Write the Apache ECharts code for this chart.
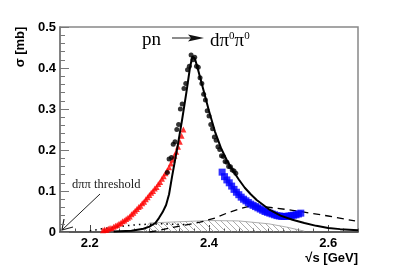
<!DOCTYPE html>
<html>
<head>
<meta charset="utf-8">
<script src="https://cdn.jsdelivr.net/npm/echarts@6/dist/echarts.min.js"></script>
<style>
  html, body { margin: 0; padding: 0; background: #fff; }
  #main { width: 399px; height: 273px; }
</style>
</head>
<body>
<div id="main"></div>
<script>
// WASA pn -> d pi0 pi0 (black dots)
var wasaX = [2.330, 2.333, 2.337, 2.340, 2.343, 2.346, 2.349, 2.352, 2.355, 2.358, 2.361, 2.364, 2.367, 2.370,
  2.373, 2.376, 2.379, 2.382, 2.385, 2.388, 2.391, 2.394, 2.397, 2.400, 2.403, 2.406, 2.409, 2.412, 2.415,
  2.418, 2.421, 2.424, 2.427, 2.430, 2.433, 2.436, 2.439, 2.442, 2.445];
var wasaY = [0.145, 0.178, 0.182, 0.214, 0.220, 0.250, 0.262, 0.300, 0.312, 0.350, 0.362, 0.396, 0.404, 0.432,
  0.420, 0.426, 0.404, 0.402, 0.376, 0.362, 0.336, 0.322, 0.296, 0.283, 0.262, 0.252, 0.232, 0.224, 0.208,
  0.201, 0.186, 0.184, 0.172, 0.170, 0.160, 0.159, 0.151, 0.149, 0.143];
// red triangles
var redX = [2.222, 2.225, 2.228, 2.231, 2.234, 2.237, 2.240, 2.243, 2.246, 2.249, 2.252, 2.255, 2.258, 2.261,
  2.264, 2.267, 2.270, 2.273, 2.276, 2.279, 2.282, 2.285, 2.288, 2.291, 2.294, 2.297, 2.300, 2.303, 2.306,
  2.309, 2.312, 2.315, 2.318, 2.321, 2.324, 2.327, 2.330, 2.333, 2.336, 2.339, 2.342, 2.345, 2.348, 2.351,
  2.354, 2.357];
var redY = [0.004, 0.006, 0.005, 0.008, 0.010, 0.009, 0.013, 0.015, 0.017, 0.020, 0.022, 0.026, 0.028, 0.032,
  0.035, 0.038, 0.043, 0.047, 0.052, 0.056, 0.061, 0.064, 0.070, 0.074, 0.080, 0.085, 0.090, 0.096, 0.100,
  0.106, 0.110, 0.117, 0.122, 0.130, 0.136, 0.143, 0.150, 0.158, 0.167, 0.176, 0.186, 0.196, 0.208, 0.220,
  0.235, 0.250];
// blue squares
var blueX = [2.422, 2.426, 2.430, 2.434, 2.438, 2.442, 2.446, 2.450, 2.454, 2.458, 2.462, 2.466, 2.470, 2.474,
  2.478, 2.482, 2.486, 2.490, 2.494, 2.498, 2.502, 2.506, 2.510, 2.514, 2.518, 2.522, 2.526, 2.530, 2.534,
  2.538, 2.542, 2.546, 2.550, 2.554];
var blueY = [0.146, 0.135, 0.127, 0.120, 0.112, 0.104, 0.097, 0.091, 0.085, 0.080, 0.076, 0.072, 0.068, 0.065,
  0.062, 0.059, 0.056, 0.053, 0.050, 0.048, 0.046, 0.044, 0.042, 0.040, 0.039, 0.038, 0.038, 0.038, 0.039,
  0.040, 0.041, 0.042, 0.044, 0.046];
// solid fit curve
var fitX = [2.24, 2.27, 2.29, 2.30, 2.31, 2.316, 2.322, 2.328, 2.333, 2.338, 2.343, 2.348, 2.355, 2.362, 2.368,
  2.372, 2.376, 2.38, 2.39, 2.40, 2.41, 2.42, 2.43, 2.44, 2.45, 2.46, 2.47, 2.48, 2.50, 2.52, 2.54, 2.56,
  2.58, 2.60, 2.62, 2.65];
var fitY = [0.001, 0.003, 0.008, 0.013, 0.022, 0.034, 0.048, 0.066, 0.092, 0.135, 0.175, 0.215, 0.275, 0.340,
  0.400, 0.428, 0.424, 0.405, 0.350, 0.295, 0.245, 0.205, 0.175, 0.150, 0.128, 0.108, 0.092, 0.078, 0.056,
  0.040, 0.030, 0.022, 0.015, 0.010, 0.007, 0.004];
// dashed curve
var dashX = [2.30, 2.32, 2.335, 2.36, 2.385, 2.41, 2.43, 2.45, 2.47, 2.49, 2.514, 2.54, 2.57, 2.60, 2.645];
var dashY = [0.0, 0.005, 0.010, 0.017, 0.024, 0.034, 0.046, 0.056, 0.064, 0.062, 0.058, 0.053, 0.046, 0.039, 0.027];
// dotted curve
var dotX = [2.20, 2.24, 2.28, 2.32, 2.36];
var dotY = [0.003, 0.012, 0.018, 0.020, 0.018];
// hatched band
var hatchX = [2.29, 2.30, 2.35, 2.40, 2.45, 2.50, 2.53, 2.56];
var hatchY = [0.0, 0.022, 0.025, 0.028, 0.027, 0.020, 0.012, 0.002];

var xLabels = [2.2, 2.4, 2.6];

function pairs(xs, ys) {
  return xs.map(function (x, i) { return [x, ys[i]]; });
}

function hatchPattern() {
  var c = document.createElement('canvas');
  c.width = 6;
  c.height = 6;
  var ctx = c.getContext('2d');
  ctx.strokeStyle = '#888';
  ctx.lineWidth = 0.7;
  ctx.beginPath();
  ctx.moveTo(-1, -1);
  ctx.lineTo(7, 7);
  ctx.moveTo(-1, 5);
  ctx.lineTo(1, 7);
  ctx.moveTo(5, -1);
  ctx.lineTo(7, 1);
  ctx.stroke();
  return c;
}

var sans = 'Liberation Sans';
var serif = 'Liberation Serif';

var myChart = echarts.init(document.getElementById('main'));
var option = {
  animation: false,
  grid: {
    show: true,
    left: 60, right: 41, top: 27, bottom: 41,
    borderColor: '#888',
    borderWidth: 1.5,
  },
  xAxis: [{
    type: 'value',
    min: 2.15,
    max: 2.65,
    axisLine: { lineStyle: { color: '#444', width: 1.5 } },
    axisTick: { inside: true, length: 7, customValues: xLabels, lineStyle: { color: '#444' } },
    axisLabel: {
      customValues: xLabels,
      margin: 5,
      color: '#000',
      fontFamily: sans,
      fontWeight: 'bold',
      fontSize: 13,
      formatter: function (v) { return v.toFixed(1); }
    },
    splitLine: { show: false },
  }, {
    type: 'value',
    min: 2.15,
    max: 2.65,
    interval: 0.025,
    position: 'bottom',
    axisLine: { show: false },
    axisTick: { inside: true, length: 3.5, lineStyle: { color: '#555' } },
    axisLabel: { show: false },
    splitLine: { show: false },
  }],
  yAxis: {
    type: 'value',
    min: 0,
    max: 0.5,
    interval: 0.1,
    axisLine: { show: true, lineStyle: { color: '#777', width: 1.5 } },
    axisTick: { inside: true, length: 9, lineStyle: { color: '#777' } },
    minorTick: { show: true, splitNumber: 5, length: 5, lineStyle: { color: '#777' } },
    axisLabel: {
      margin: 4,
      color: '#000',
      fontFamily: sans,
      fontWeight: 'bold',
      fontSize: 13,
      formatter: function (v) { return v === 0 ? '0' : v.toFixed(1); }
    },
    splitLine: { show: false },
  },
  series: [{
    type: 'line',
    data: pairs(hatchX, hatchY),
    showSymbol: false,
    lineStyle: { color: '#999', width: 0.8 },
    areaStyle: { color: { image: hatchPattern(), repeat: 'repeat' }, opacity: 1 },
    z: 1,
  }, {
    type: 'line',
    data: pairs(dotX, dotY),
    showSymbol: false,
    lineStyle: { color: '#000', width: 1.5, type: [1.5, 4] },
    z: 2,
  }, {
    type: 'line',
    data: pairs(dashX, dashY),
    showSymbol: false,
    lineStyle: { color: '#000', width: 1.3, type: [7, 5] },
    z: 2,
  }, {
    type: 'scatter',
    data: pairs(redX, redY),
    symbol: 'triangle',
    symbolSize: 6,
    itemStyle: { color: '#ff0000' },
    z: 3,
  }, {
    type: 'scatter',
    data: pairs(blueX, blueY),
    symbol: 'rect',
    symbolSize: 7,
    itemStyle: { color: '#0000ff' },
    z: 3,
  }, {
    type: 'scatter',
    data: pairs(wasaX, wasaY),
    symbol: 'circle',
    symbolSize: 5,
    itemStyle: { color: '#000' },
    z: 4,
  }, {
    type: 'line',
    data: pairs(fitX, fitY),
    showSymbol: false,
    lineStyle: { color: '#000', width: 2 },
    z: 5,
  }],
  graphic: [
    // y axis title
    {
      type: 'text', x: 20, y: 47, rotation: Math.PI / 2,
      style: { text: 'σ [mb]', fontFamily: sans, fontWeight: 'bold', fontSize: 13, fill: '#000',
        align: 'center', verticalAlign: 'middle' }
    },
    // x axis title
    {
      type: 'text', x: 358, y: 258,
      style: { text: '√s [GeV]', fontFamily: sans, fontWeight: 'bold', fontSize: 13, fill: '#000',
        align: 'right', verticalAlign: 'middle' }
    },
    // reaction label
    {
      type: 'text', x: 142, y: 40,
      style: { text: 'pn', fontFamily: serif, fontSize: 19, fill: '#000', verticalAlign: 'middle' }
    },
    {
      type: 'line', shape: { x1: 172, y1: 38, x2: 196, y2: 38 },
      style: { stroke: '#666', lineWidth: 1.5 }
    },
    {
      type: 'polygon', shape: { points: [[188, 34.5], [204, 38], [188, 41.5], [191, 38]] },
      style: { fill: '#111' }
    },
    {
      type: 'text', x: 210, y: 31,
      style: {
        text: '{a|dπ}{s|0}{a|π}{s|0}',
        fill: '#000',
        rich: {
          a: { fontFamily: serif, fontSize: 19, lineHeight: 20, verticalAlign: 'bottom' },
          s: { fontFamily: serif, fontSize: 11, lineHeight: 20, verticalAlign: 'top' }
        }
      }
    },
    // threshold annotation
    {
      type: 'text', x: 72, y: 185,
      style: { text: 'dππ threshold', fontFamily: serif, fontSize: 12.5, fill: '#222', verticalAlign: 'middle' }
    },
    {
      type: 'line', shape: { x1: 100, y1: 194, x2: 62, y2: 230 },
      style: { stroke: '#222', lineWidth: 1 }
    },
    {
      type: 'polyline', shape: { points: [[64, 219], [62, 230], [73, 227]] },
      style: { stroke: '#222', lineWidth: 1.2, fill: null }
    }
  ]
};
myChart.setOption(option);
</script>
</body>
</html>
